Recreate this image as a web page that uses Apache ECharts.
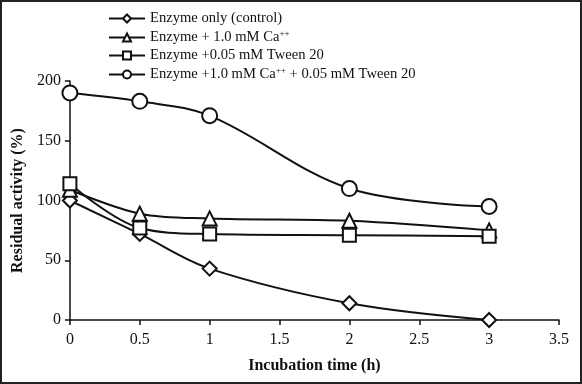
<!DOCTYPE html>
<html><head><meta charset="utf-8">
<script src="https://cdn.jsdelivr.net/npm/echarts@6/dist/echarts.min.js"></script>
<style>html,body{margin:0;padding:0;background:#fff}#c{width:582px;height:384px;box-sizing:border-box;border:2px solid #222}</style>
</head><body><div id="c"></div>
<script>
var times = [0, 0.5, 1, 2, 3];
var seriesNames = ['Enzyme only (control)', 'Enzyme + 1.0 mM Ca++', 'Enzyme +0.05 mM Tween 20', 'Enzyme +1.0 mM Ca++ + 0.05 mM Tween 20'];
var control = [100, 72, 43, 14, 0];
var calcium = [109, 89, 85, 83, 75];
var tween = [114, 77, 72, 71, 70];
var both = [190, 183, 171, 110, 95];
var xTicks = [0, 0.5, 1, 1.5, 2, 2.5, 3, 3.5];
var yTicks = [0, 50, 100, 150, 200];
var symbols = ['diamond', 'triangle', 'rect', 'circle'];
var sizes = [14, 14, 13, 15];
var values = [control, calcium, tween, both];

var font = '"Liberation Serif", "Times New Roman", serif';
var chart = echarts.init(document.getElementById('c'));
var series = values.map(function (v, i) {
  return {
    name: seriesNames[i], type: 'line', smooth: 0.35,
    data: v.map(function (y, k) { return [times[k], y]; }),
    symbol: symbols[i], symbolSize: sizes[i], showSymbol: true,
    lineStyle: { color: '#111', width: 2 },
    itemStyle: { color: '#fff', borderColor: '#111', borderWidth: 2 },
    z: 2 + i
  };
});
chart.setOption({
  animation: false,
  backgroundColor: '#fff',
  grid: { left: 67, right: 21, top: 79, bottom: 62, containLabel: false },
  legend: {
    orient: 'vertical', left: 101, top: 4, itemGap: 3, itemWidth: 36, itemHeight: 10,
    data: seriesNames,
    textStyle: {
      fontFamily: font, fontSize: 14.6, color: '#111',
      rich: { sup: { fontFamily: font, fontSize: 9, verticalAlign: 'top', color: '#111', padding: [0, 0, 8, 0] }, n: { fontFamily: font, fontSize: 14.6, color: '#111' } }
    },
    formatter: function (name) {
      var parts = name.split('++');
      var out = '';
      for (var i = 0; i < parts.length; i++) {
        if (parts[i]) out += '{n|' + parts[i] + '}';
        if (i < parts.length - 1) out += '{sup|++}';
      }
      return out;
    }
  },
  xAxis: {
    type: 'value', min: 0, max: 3.5, interval: 0.5,
    name: 'Incubation time (h)', nameLocation: 'middle', nameGap: 38,
    nameTextStyle: { fontFamily: font, fontSize: 16, fontWeight: 'bold', color: '#111' },
    axisLine: { show: true, lineStyle: { color: '#111', width: 1.5 } },
    axisTick: { show: true, inside: false, length: 5, lineStyle: { color: '#111', width: 1.5 } },
    axisLabel: { fontFamily: font, fontSize: 16, color: '#111', margin: 12, formatter: function (v) { return String(v); } },
    splitLine: { show: false }
  },
  yAxis: {
    type: 'value', min: 0, max: 200, interval: 50,
    name: 'Residual activity (%)', nameLocation: 'middle', nameGap: 43, nameRotate: 90,
    nameTextStyle: { fontFamily: font, fontSize: 16, fontWeight: 'bold', color: '#111' },
    axisLine: { show: true, lineStyle: { color: '#111', width: 1.5 } },
    axisTick: { show: true, inside: false, length: 5, lineStyle: { color: '#111', width: 1.5 } },
    axisLabel: { fontFamily: font, fontSize: 16, color: '#111', margin: 9 },
    splitLine: { show: false }
  },
  series: series
});
</script></body></html>
